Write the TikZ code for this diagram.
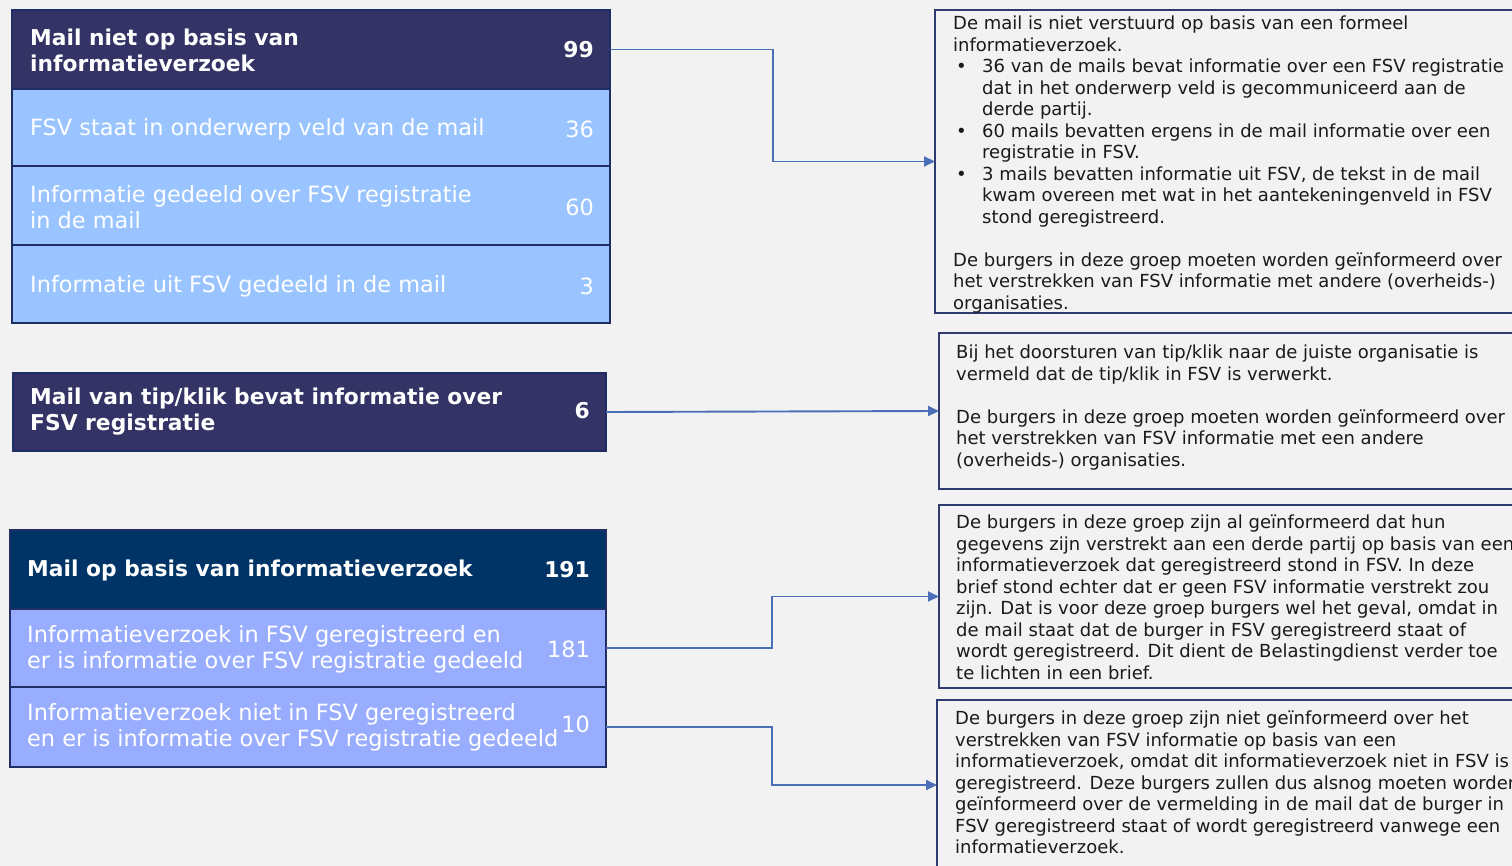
\documentclass[tikz,border=0pt]{standalone}
\usepackage{fontspec}
\setmainfont{DejaVu Sans}
\usetikzlibrary{arrows.meta}
\definecolor{bg}{HTML}{F2F2F2}
\definecolor{hdrA}{HTML}{333366}
\definecolor{hdrC}{HTML}{003366}
\definecolor{rowA}{HTML}{99C4FF}
\definecolor{rowC}{HTML}{99ADFF}
\definecolor{edge}{HTML}{1F2F66}
\definecolor{conn}{HTML}{4A6FB8}
\definecolor{boxedge}{HTML}{2E3A70}
\definecolor{txt}{HTML}{1A1A1A}
\begin{document}
\begin{tikzpicture}[x=1pt,y=-1pt,
  cell/.style={draw=edge, line width=1.5pt, anchor=north west, inner sep=0pt, outer sep=0pt, minimum width=#1},
  hdrtxt/.style={text=white, font=\bfseries\fontsize{21.8}{26}\selectfont, align=left, anchor=west, inner sep=0pt},
  rowtxt/.style={text=white, font=\fontsize{22.4}{26}\selectfont, align=left, anchor=west, inner sep=0pt},
  hdrnum/.style={text=white, anchor=east, inner sep=0pt, font=\bfseries\fontsize{21.8}{26}\selectfont},
  rownum/.style={text=white, anchor=east, inner sep=0pt, font=\fontsize{22.4}{26}\selectfont},
  note/.style={draw=boxedge, line width=1.6pt, fill=bg, anchor=north west, inner sep=0pt, outer sep=0pt, minimum width=620pt},
  notetxt/.style={text=txt, font=\fontsize{18}{21.5}\selectfont, align=left, anchor=north west, inner sep=0pt},
  link/.style={draw=conn, line width=1.9pt, -{Triangle[length=11pt,width=10pt]}}
]
\useasboundingbox (0,0) rectangle (1512,866);
\clip (0,0) rectangle (1512,866);
\fill[bg] (0,0) rectangle (1512,866);

% Group A
\node[cell=598pt, fill=hdrA, minimum height=79pt] (hA) at (12,10) {};
\node[cell=598pt, fill=rowA, minimum height=77pt] (a1) at (12,89) {};
\node[cell=598pt, fill=rowA, minimum height=79pt] (a2) at (12,166) {};
\node[cell=598pt, fill=rowA, minimum height=78pt] (a3) at (12,245) {};
\node[hdrtxt] (tA) at (30,50) {Mail niet op basis van\\informatieverzoek};
\node[hdrnum] (nA) at (594,50) {99};
\node[rowtxt] (ta1) at (30,129) {FSV staat in onderwerp veld van de mail};
\node[rownum] (na1) at (594,129) {36};
\node[rowtxt] (ta2) at (30,207.5) {Informatie gedeeld over FSV registratie\\in de mail};
\node[rownum] (na2) at (594,207) {60};
\node[rowtxt] (ta3) at (30,286) {Informatie uit FSV gedeeld in de mail};
\node[rownum] (na3) at (594,286) {3};

% Group B
\node[cell=593pt, fill=hdrA, minimum height=78pt] (hB) at (13,373) {};
\node[hdrtxt] (tB) at (30,412) {Mail van tip/klik bevat informatie over\\FSV registratie};
\node[hdrnum] (nB) at (590,411) {6};

% Group C
\node[cell=596pt, fill=hdrC, minimum height=79pt] (hC) at (10,530) {};
\node[cell=596pt, fill=rowC, minimum height=78pt] (c1) at (10,609) {};
\node[cell=596pt, fill=rowC, minimum height=80pt] (c2) at (10,687) {};
\node[hdrtxt] (tC) at (27,570) {Mail op basis van informatieverzoek};
\node[hdrnum] (nC) at (590,570) {191};
\node[rowtxt] (tc1) at (27,649) {Informatieverzoek in FSV geregistreerd en\\er is informatie over FSV registratie gedeeld};
\node[rownum] (nc1) at (590,649) {181};
\node[rowtxt] (tc2) at (27,727.5) {Informatieverzoek niet in FSV geregistreerd\\en er is informatie over FSV registratie gedeeld};
\node[rownum] (nc2) at (590,724) {10};

% Notes
\node[note, minimum height=303pt] (r1) at (935,10) {};
\node[note, minimum height=156pt] (r2) at (939,333) {};
\node[note, minimum height=183pt] (r3) at (939,505) {};
\node[note, minimum height=170pt] (r4) at (937,700) {};

\node[notetxt] (t1) at (953,16) {De mail is niet verstuurd op basis van een formeel\\
informatieverzoek.\\
\makebox[29pt][l]{\hspace{3pt}•}36 van de mails bevat informatie over een FSV registratie\\
\hspace*{29pt}dat in het onderwerp veld is gecommuniceerd aan de\\
\hspace*{29pt}derde partij.\\
\makebox[29pt][l]{\hspace{3pt}•}60 mails bevatten ergens in de mail informatie over een\\
\hspace*{29pt}registratie in FSV.\\
\makebox[29pt][l]{\hspace{3pt}•}3 mails bevatten informatie uit FSV, de tekst in de mail\\
\hspace*{29pt}kwam overeen met wat in het aantekeningenveld in FSV\\
\hspace*{29pt}stond geregistreerd.\\[21.5pt]
De burgers in deze groep moeten worden geïnformeerd over\\
het verstrekken van FSV informatie met andere (overheids-)\\
organisaties.};

\node[notetxt] (t2) at (956,345) {Bij het doorsturen van tip/klik naar de juiste organisatie is\\
vermeld dat de tip/klik in FSV is verwerkt.\\[21.5pt]
De burgers in deze groep moeten worden geïnformeerd over\\
het verstrekken van FSV informatie met een andere\\
(overheids-) organisaties.};

\node[notetxt] (t3) at (956,515) {De burgers in deze groep zijn al geïnformeerd dat hun\\
gegevens zijn verstrekt aan een derde partij op basis van een\\
informatieverzoek dat geregistreerd stond in FSV. In deze\\
brief stond echter dat er geen FSV informatie verstrekt zou\\
zijn. Dat is voor deze groep burgers wel het geval, omdat in\\
de mail staat dat de burger in FSV geregistreerd staat of\\
wordt geregistreerd. Dit dient de Belastingdienst verder toe\\
te lichten in een brief.};

\node[notetxt] (t4) at (955,711) {De burgers in deze groep zijn niet geïnformeerd over het\\
verstrekken van FSV informatie op basis van een\\
informatieverzoek, omdat dit informatieverzoek niet in FSV is\\
geregistreerd. Deze burgers zullen dus alsnog moeten worden\\
geïnformeerd over de vermelding in de mail dat de burger in\\
FSV geregistreerd staat of wordt geregistreerd vanwege een\\
informatieverzoek.};

% Connectors
\draw[link] (hA.east) -- ++(163,0) |- (r1.west);
\draw[link] (hB.east) -- (r2.west);
\draw[link] (c1.east) -- ++(166,0) |- (r3.west);
\draw[link] (c2.east) -- ++(166,0) |- (r4.west);
\end{tikzpicture}
\end{document}
